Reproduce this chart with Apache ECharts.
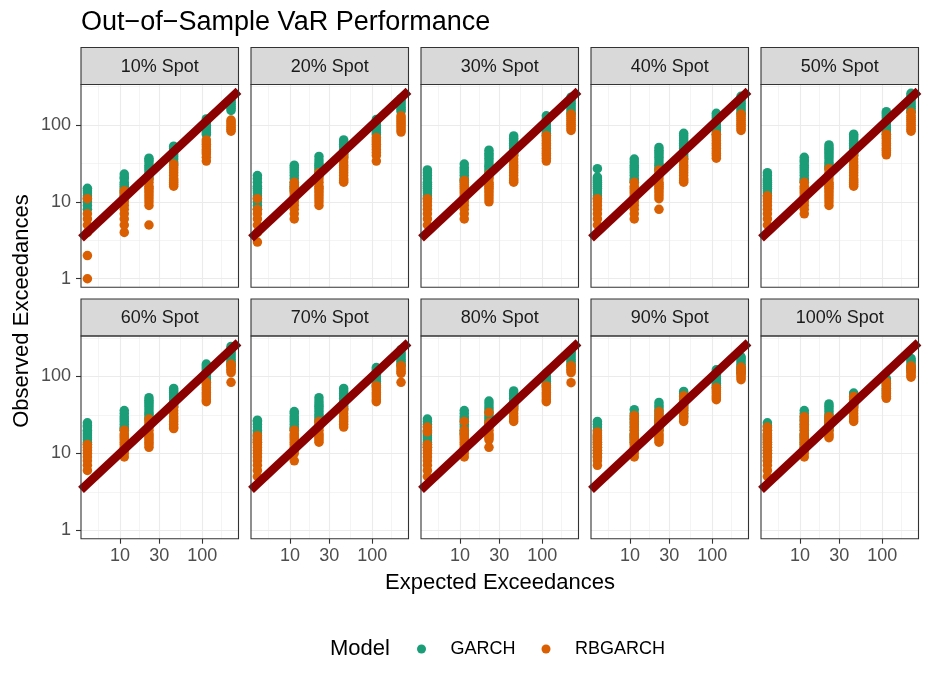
<!DOCTYPE html>
<html><head><meta charset="utf-8">
<script src="https://cdn.jsdelivr.net/npm/echarts@6/dist/echarts.min.js"></script>
<style>html,body{margin:0;padding:0;background:#fff}#c{width:930px;height:690px}</style>
</head><body><div id="c"></div>
<script>
// ---------- data ----------
const panelLabels = ['10% Spot','20% Spot','30% Spot','40% Spot','50% Spot','60% Spot','70% Spot','80% Spot','90% Spot','100% Spot'];
const expected = [4, 11.25, 22.5, 45, 112.5, 225];
const xBreaks = [3, 10, 30, 100, 300];
const yBreaks = [1, 10, 100, 1000];
const xLimits = [3.342, 277.3];
const yLimits = [0.776, 336.5];
const modelNames = ['GARCH', 'RBGARCH'];

const garch10 = [[8,9,10,11,12,13,14,15],[12,13,14,15,16,17,18,20,21,23],[20,22,24,26,28,30,33,35,37],[30,33,36,39,42,46,50,53],[75,80,86,92,99,106,113,120],[155,165,175,186,198,210]];
const rbgarch10 = [[1,2,4,5,6,7,11],[4,5,6,7,8,9,10,11,12,13,14],[5,9,10,11,12,13,14,15,16,18,20],[16,17,18,19,20,22,24,26,28,31],[34,38,42,45,48,52,56,60,64],[83,88,93,98,104,110,116]];
const garch20 = [[8,9,10,11,12,13,14,15,16,18,20,22],[14,15,16,17,18,20,22,24,26,28,30],[22,24,26,28,30,32,35,39],[38,41,44,48,52,56,60,64],[75,80,86,92,99,106,112,118],[150,160,170,182,195,208,220]];
const rbgarch20 = [[3,4,5,6,7,8,11],[6,7,8,9,10,11,12,13,14,15,16,18],[9,10,11,12,13,14,15,16,18,20,22,24],[18,19,20,22,24,26,28,30,33,36,39,42],[34,40,44,48,52,56,60,64,69],[81,86,92,98,104,110,117,124,132]];
const garch30 = [[11,12,13,14,15,16,17,18,20,22,24,26],[18,19,20,22,24,26,28,31],[23,25,27,29,31,34,37,40,43,47],[40,43,46,50,54,58,63,67,72],[73,78,84,90,97,104,112,120,132],[139,148,158,168,180,192,205,218,230]];
const rbgarch30 = [[5,6,7,8,9,10,11],[6,7,8,9,10,11,12,13,14,15,16,17,19],[10,11,12,13,14,15,16,17,18,20,21,23],[18,19,20,22,24,26,28,30,33,36,40],[34,37,40,43,46,50,54,58,63,68,73],[85,90,96,102,108,115,122,130,139]];
const garch40 = [[11,12,13,14,15,16,17,18,19,20,21,27],[18,19,20,22,24,26,28,30,33,36],[26,28,30,32,35,38,41,44,47,51],[36,39,42,46,50,54,58,63,68,73,78],[76,81,87,93,100,107,115,124,133,142],[139,148,158,168,180,192,205,220,236]];
const rbgarch40 = [[5,6,7,8,9,10,11],[6,7,8,9,10,11,12,13,14,15,16,18],[8,11,12,13,14,15,16,17,18,20,22,24,26],[18,19,20,22,24,26,28,30,33,36],[37,40,43,46,50,54,58,63,68,72,76],[85,90,96,102,108,115,122,130,139]];
const garch50 = [[12,13,14,15,16,17,18,19,20,22,24],[18,19,20,22,24,26,28,30,33,35,38],[27,29,31,33,36,39,42,45,48,51,55],[40,43,46,50,54,58,63,68,72,76],[76,81,87,93,100,107,115,124,133,141,149],[146,155,165,176,188,200,214,228,243,258]];
const rbgarch50 = [[5,6,7,8,9,10,11,12],[7,8,9,10,11,12,13,14,15,16,18],[9,10,11,12,13,14,15,16,17,18,20,22,24,27],[16,17,18,19,20,22,24,26,28,30,33,36,40],[41,44,47,50,54,58,62,67,71,76],[83,88,93,99,105,112,119,126,134,146]];
const garch60 = [[13,14,15,16,17,18,19,20,22,23,25],[20,21,22,24,26,28,30,33,36],[28,30,32,34,37,40,43,46,49,53],[40,43,46,50,54,58,62,66,70],[83,88,94,100,107,114,122,130,138,145],[139,148,158,168,180,192,205,218,232,246]];
const rbgarch60 = [[6,7,8,9,10,11,12,13],[9,10,11,12,13,14,15,16,17,18,20],[12,13,14,15,16,17,18,20,22,24,26,28],[21,22,24,26,28,30,33,36,40],[47,50,54,58,62,67,72,78,84],[84,112,118,124,131,139,145]];
const garch70 = [[14,15,16,17,18,19,20,22,24,26,27],[20,21,22,24,26,28,30,33,35],[26,28,30,32,35,38,41,44,48,53],[38,41,44,48,52,56,60,65,70],[76,81,87,93,100,107,115,123,131],[139,148,158,168,180,192,205,224]];
const rbgarch70 = [[5,6,7,8,9,10,11,12,13,14,15,17],[8,10,11,12,13,14,15,16,17,18,20],[14,15,16,17,18,20,22,24,26],[22,24,26,28,30,33,36,38],[47,50,54,58,62,67,72,76],[84,110,116,122,130,139]];
const garch80 = [[12,13,14,15,16,17,18,19,20,22,24,26,28],[18,19,20,22,24,26,28,30,33,36],[25,27,29,31,34,37,40,44,48],[38,41,44,48,52,56,60,65],[76,81,87,93,100,110],[139,148,158,168,180,192,205,213]];
const rbgarch80 = [[5,6,7,8,9,10,11,12,13,19,22],[9,10,11,12,13,14,15,16,17,18,20,26],[12,15,16,17,18,20,22,24,25,34],[26,28,30,33,36,39,42],[47,50,54,58,62,67,72,76],[83,112,118,124,131,139]];
const garch90 = [[9,10,11,12,13,14,15,16,17,18,20,22,24,26],[14,15,16,17,18,20,22,24,26,28,30,33,37],[20,22,24,26,28,30,33,36,39,42,46],[30,33,36,39,42,46,50,55,60,64],[72,77,82,88,94,100,107,114,122],[110,118,126,135,144,154,164,174,180]];
const rbgarch90 = [[7,8,9,10,11,12,13,14,15,16,17,19],[9,10,11,12,13,14,15,16,17,18,20,22,25,28,31],[14,15,16,17,18,20,22,24,26,28,31,35],[26,28,30,33,36,39,42,46,50,56],[50,53,56,60,64,68,72],[91,96,102,108,114,120,126,133]];
const garch100 = [[8,9,10,11,12,13,14,15,16,17,18,20,22,23,25],[12,13,14,15,16,17,18,20,22,24,26,28,30,33,36],[20,22,24,26,28,30,32,35,38,41,44],[40,43,46,50,54,58,61],[55,60,65,70,76,82,88,94],[120,128,136,145,154,163,172]];
const rbgarch100 = [[5,6,7,8,9,10,11,12,13,14,15,16,17,18,20,22],[9,10,11,12,13,14,15,16,17,18,20,22,24,27,30],[16,17,18,20,22,24,26,28,30],[26,28,30,33,36,39,42,46,50,55],[52,55,58,62,66,70,75,80,85],[98,103,108,114,120,126,132,138]];

const garchPanels = [garch10, garch20, garch30, garch40, garch50, garch60, garch70, garch80, garch90, garch100];
const rbgarchPanels = [rbgarch10, rbgarch20, rbgarch30, rbgarch40, rbgarch50, rbgarch60, rbgarch70, rbgarch80, rbgarch90, rbgarch100];

// ---------- layout / style ----------
const FONT = 'Liberation Sans, Arial, Helvetica, sans-serif';
const COL_GREEN = '#1B9E77', COL_ORANGE = '#D95F02', COL_LINE = '#8B0000';
const panelLeft0 = 81, panelStep = 170, panelW = 157.5;
const rowTops = [84.5, 336], panelH = 202.7, stripH = 37;

const L = v => Math.log10(v);
const xr = [L(xLimits[0]), L(xLimits[1])];
const yr = [L(yLimits[0]), L(yLimits[1])];
const within = (arr, r) => arr.filter(v => v >= r[0] && v <= r[1]);
const xMajor = within(xBreaks.map(L), xr);
const yMajor = within(yBreaks.map(L), yr);
const midpoints = a => a.slice(1).map((v, i) => (v + a[i]) / 2);
const xMinor = within(midpoints(xBreaks.map(L)), xr);
const yMinor = within(midpoints(yBreaks.map(L)), yr);
const fmt = v => String(Math.round(Math.pow(10, v)));

const grids = [], xAxes = [], yAxes = [], series = [], graphics = [];

panelLabels.forEach((lab, i) => {
  const row = Math.floor(i / 5), col = i % 5;
  const left = panelLeft0 + col * panelStep, top = rowTops[row];
  grids.push({ left: left, top: top, width: panelW, height: panelH, show: true, backgroundColor: '#FFFFFF', borderWidth: 0 });
  const bottomRow = row === 1, leftCol = col === 0;
  xAxes.push({
    type: 'value', gridIndex: i, min: xr[0], max: xr[1], position: 'bottom',
    axisLine: { show: false, onZero: false },
    axisTick: { show: bottomRow, customValues: xMajor, length: 5, lineStyle: { color: '#333333', width: 1.1 } },
    axisLabel: { show: bottomRow, customValues: xMajor, formatter: fmt, fontSize: 18, color: '#4D4D4D', fontFamily: FONT, margin: 8 },
    splitLine: { show: true, lineStyle: { color: '#EBEBEB', width: 1.1 } }
  });
  xAxes.push({
    type: 'value', gridIndex: i, min: xr[0], max: xr[1], position: 'bottom',
    axisLine: { show: false, onZero: false },
    axisTick: { show: false, customValues: xMinor },
    axisLabel: { show: false },
    splitLine: { show: true, lineStyle: { color: '#EBEBEB', width: 0.55 } }
  });
  yAxes.push({
    type: 'value', gridIndex: i, min: yr[0], max: yr[1], position: 'left',
    axisLine: { show: false, onZero: false },
    axisTick: { show: leftCol, customValues: yMajor, length: 5, lineStyle: { color: '#333333', width: 1.1 } },
    axisLabel: { show: leftCol, customValues: yMajor, formatter: fmt, fontSize: 18, color: '#4D4D4D', fontFamily: FONT, margin: 10 },
    splitLine: { show: true, lineStyle: { color: '#EBEBEB', width: 1.1 } }
  });
  yAxes.push({
    type: 'value', gridIndex: i, min: yr[0], max: yr[1], position: 'left',
    axisLine: { show: false, onZero: false },
    axisTick: { show: false, customValues: yMinor },
    axisLabel: { show: false },
    splitLine: { show: true, lineStyle: { color: '#EBEBEB', width: 0.55 } }
  });
  const toPts = cols => {
    const out = [];
    cols.forEach((vals, j) => vals.forEach(v => out.push([L(expected[j]), L(v)])));
    return out;
  };
  series.push({ type: 'scatter', name: modelNames[0], xAxisIndex: 2 * i, yAxisIndex: 2 * i, data: toPts(garchPanels[i]),
    symbol: 'circle', symbolSize: 9.5, itemStyle: { color: COL_GREEN, opacity: 1 }, clip: true, silent: true, z: 2 });
  series.push({ type: 'scatter', name: modelNames[1], xAxisIndex: 2 * i, yAxisIndex: 2 * i, data: toPts(rbgarchPanels[i]),
    symbol: 'circle', symbolSize: 9.5, itemStyle: { color: COL_ORANGE, opacity: 1 }, clip: true, silent: true, z: 3 });
  series.push({ type: 'line', name: 'y = x', xAxisIndex: 2 * i, yAxisIndex: 2 * i,
    data: [[xr[0], xr[0]], [xr[1], xr[1]]], showSymbol: false, symbol: 'none',
    lineStyle: { color: COL_LINE, width: 8.5, cap: 'butt' }, clip: true, silent: true, z: 4 });
  // strip + border
  graphics.push({ type: 'rect', shape: { x: left, y: top - stripH, width: panelW, height: stripH },
    style: { fill: '#D9D9D9', stroke: '#333333', lineWidth: 1.1 }, z: 100 });
  graphics.push({ type: 'text', x: left + panelW / 2, y: top - stripH / 2 + 1,
    style: { text: lab, fill: '#1A1A1A', font: '18px ' + FONT, textAlign: 'center', textVerticalAlign: 'middle', align: 'center', verticalAlign: 'middle' }, z: 101 });
  graphics.push({ type: 'rect', shape: { x: left, y: top, width: panelW, height: panelH },
    style: { fill: 'none', stroke: '#333333', lineWidth: 1.1 }, z: 100 });
});

graphics.push({ type: 'text', x: 22, y: 311, rotation: Math.PI / 2,
  style: { text: 'Observed Exceedances', fill: '#000000', font: '22px ' + FONT, textAlign: 'center', textVerticalAlign: 'middle', align: 'center', verticalAlign: 'middle' }, z: 101 });
graphics.push({ type: 'text', x: 500, y: 583,
  style: { text: 'Expected Exceedances', fill: '#000000', font: '22px ' + FONT, textAlign: 'center', textVerticalAlign: 'middle', align: 'center', verticalAlign: 'middle' }, z: 101 });
graphics.push({ type: 'text', x: 330, y: 649,
  style: { text: 'Model', fill: '#000000', font: '22px ' + FONT, textAlign: 'left', textVerticalAlign: 'middle', align: 'left', verticalAlign: 'middle' }, z: 101 });

const chart = echarts.init(document.getElementById('c'), null, { renderer: 'canvas' });
chart.setOption({
  animation: false,
  backgroundColor: '#FFFFFF',
  title: { text: 'Out\u2212of\u2212Sample VaR Performance', left: 76, top: 4,
    textStyle: { fontSize: 27, fontWeight: 'normal', color: '#000000', fontFamily: FONT } },
  legend: { data: modelNames, left: 412, top: 635, icon: 'circle', itemWidth: 48, itemHeight: 9, itemGap: 26,
    textStyle: { fontSize: 18, color: '#000000', fontFamily: FONT }, selectedMode: false },
  grid: grids, xAxis: xAxes, yAxis: yAxes, series: series, graphic: graphics
});
</script>
</body></html>
